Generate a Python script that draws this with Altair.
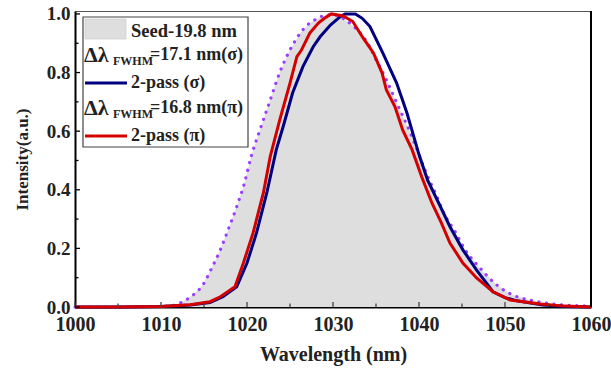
import altair as alt
import pandas as pd

# ---- data ----
seed_x = [1000, 1005, 1010, 1011.6, 1012.5, 1013.7, 1014.9, 1015.9, 1016.9, 1017.8, 1018.8, 1019.7,
          1020.5, 1021.5, 1022.7, 1023.8, 1025, 1026.2, 1027.3, 1028.1, 1029.3, 1030.5, 1031.5,
          1032.5, 1033.9, 1035, 1036.2, 1037.6, 1039, 1039.7, 1040.8, 1041.9, 1043, 1044.2, 1045.3,
          1047.1, 1049, 1050.9, 1053.3, 1055.6, 1058.7, 1060]
seed_y = [0, 0, 0.002, 0.006, 0.018, 0.04, 0.077, 0.133, 0.195, 0.263, 0.342, 0.423,
          0.515, 0.604, 0.706, 0.80, 0.877, 0.935, 0.969, 0.983, 0.997, 0.995, 0.978,
          0.955, 0.906, 0.845, 0.775, 0.684, 0.594, 0.543, 0.46, 0.389, 0.314, 0.257, 0.198,
          0.133, 0.076, 0.041, 0.021, 0.01, 0.004, 0.003]

sigma_x = [1000, 1005, 1010, 1013.4, 1015.7, 1017.2, 1018.8, 1020, 1021.1, 1022.3, 1023.4, 1024.2,
           1025.3, 1026.5, 1027.7, 1028.5, 1029.7, 1030.8, 1031.4, 1032.6, 1033.4, 1034.3, 1035.8,
           1037.4, 1038.6, 1040, 1041, 1042.4, 1043.6, 1045.1, 1046.7, 1048.6, 1050, 1051.4,
           1054.4, 1057, 1060]
sigma_y = [0, 0, 0.002, 0.007, 0.015, 0.035, 0.069, 0.15, 0.252, 0.389, 0.536, 0.615,
           0.73, 0.82, 0.888, 0.922, 0.962, 0.99, 1.0, 1.0, 0.985, 0.957, 0.866,
           0.764, 0.662, 0.52, 0.433, 0.348, 0.274, 0.195, 0.126, 0.052, 0.032, 0.021,
           0.007, 0.002, 0.0]

pi_x = [1000, 1005, 1010, 1013.4, 1015.7, 1016.9, 1018.6, 1019.5, 1020.7, 1021.9, 1022.7, 1023.8,
        1025, 1025.8, 1026.3, 1027.3, 1028.3, 1029, 1029.8, 1031.2, 1032.3, 1033.5, 1034.7,
        1035.7, 1036.2, 1037.2, 1038.1, 1039.2, 1040.3, 1041.5, 1042.6, 1043.6, 1045.1, 1046.7,
        1048.6, 1050.6, 1054.1, 1057, 1060]
pi_y = [0, 0, 0.002, 0.008, 0.018, 0.035, 0.069, 0.143, 0.252, 0.389, 0.513, 0.638,
        0.764, 0.854, 0.875, 0.935, 0.969, 0.985, 1.0, 0.993, 0.974, 0.918, 0.867,
        0.799, 0.741, 0.684, 0.604, 0.536, 0.445, 0.355, 0.287, 0.218, 0.15, 0.099,
        0.052, 0.024, 0.01, 0.003, 0.0]

x_major = [1000, 1010, 1020, 1030, 1040, 1050, 1060]
x_minor = [1005, 1015, 1025, 1035, 1045, 1055]
y_major = [0.0, 0.2, 0.4, 0.6, 0.8, 1.0]
y_minor = [0.1, 0.3, 0.5, 0.7, 0.9]

legend_labels = ["Seed-19.8 nm", "=17.1 nm(σ)", "2-pass (σ)", "=16.8 nm(π)", "2-pass (π)"]

W, H = 516, 296
FONT = "Liberation Serif"
GRAY = "#dedede"
PURPLE = "#9b3dff"
NAVY = "#000080"
RED = "#d40000"

seed = pd.DataFrame({"x": seed_x, "y": seed_y})
sig = pd.DataFrame({"x": sigma_x, "y": sigma_y})
pi_ = pd.DataFrame({"x": pi_x, "y": pi_y})

xs = alt.Scale(domain=[1000, 1060], nice=False, zero=False)
ys = alt.Scale(domain=[0, 1.01], nice=False)

xaxis = alt.Axis(values=x_major, format="d", ticks=False, labelPadding=7, labelFlush=False,
                 labelOverlap=False, labelBound=False, labelFontSize=20, title="Wavelength (nm)",
                 titlePadding=10, titleFontSize=20, domainColor="black", domainWidth=2, grid=False)
yaxis = alt.Axis(values=y_major, format=".1f", ticks=False, labelPadding=5, labelFlush=False,
                 labelOverlap=False, labelFontSize=19, title="Intensity(a.u.)",
                 titlePadding=15, titleFontSize=17, domainColor="black", domainWidth=2, grid=False)

area = alt.Chart(seed).mark_area(color=GRAY, opacity=1).encode(
    x=alt.X("x:Q", scale=xs, axis=xaxis),
    y=alt.Y("y:Q", scale=ys, axis=yaxis),
)
seed_line = alt.Chart(seed).mark_line(color=PURPLE, strokeWidth=3.2, strokeDash=[0.1, 7.5],
                                      strokeCap="round", interpolate="monotone").encode(
    x=alt.X("x:Q", scale=xs), y=alt.Y("y:Q", scale=ys))
sig_line = alt.Chart(sig).mark_line(color=NAVY, strokeWidth=3, interpolate="linear").encode(
    x=alt.X("x:Q", scale=xs), y=alt.Y("y:Q", scale=ys))
pi_line = alt.Chart(pi_).mark_line(color=RED, strokeWidth=3, interpolate="linear").encode(
    x=alt.X("x:Q", scale=xs), y=alt.Y("y:Q", scale=ys))

# inward ticks
def xticks(vals, ln, color):
    return alt.Chart(pd.DataFrame({"v": vals})).mark_rule(color=color, strokeWidth=1.3).encode(
        x=alt.X("v:Q", scale=xs), y=alt.value(H), y2=alt.value(H - ln))

def yticks(vals, ln):
    return alt.Chart(pd.DataFrame({"v": vals})).mark_rule(color="black", strokeWidth=1.3).encode(
        y=alt.Y("v:Q", scale=ys), x=alt.value(0), x2=alt.value(ln))

ticks = [xticks(x_major, 5, "#444"), xticks(x_minor, 3.5, "#444"),
         yticks(y_major, 5), yticks(y_minor, 3.5)]

right_border = alt.Chart(pd.DataFrame({"a": [0]})).mark_rule(color="black", strokeWidth=2).encode(
    x=alt.value(W), y=alt.value(0), y2=alt.value(H))

# legend (drawn in pixel space inside the plot)
lx0, ly0, lx1, ly1 = 8, 6, 173, 136
leg_box = alt.Chart(pd.DataFrame({"a": [0]})).mark_rect(fill="white", stroke="#444", strokeWidth=1.2).encode(
    x=alt.value(lx0), x2=alt.value(lx1), y=alt.value(ly0), y2=alt.value(ly1))
leg_patch = alt.Chart(pd.DataFrame({"a": [0]})).mark_rect(fill=GRAY, stroke="#cfcfcf", strokeWidth=0.8).encode(
    x=alt.value(10), x2=alt.value(51), y=alt.value(8), y2=alt.value(28))
leg_sig = alt.Chart(pd.DataFrame({"a": [0]})).mark_rule(color=NAVY, strokeWidth=3).encode(
    x=alt.value(10), x2=alt.value(52), y=alt.value(72))
leg_pi = alt.Chart(pd.DataFrame({"a": [0]})).mark_rule(color=RED, strokeWidth=3).encode(
    x=alt.value(10), x2=alt.value(52), y=alt.value(125))

def txt(s, x, y, size=18):
    return alt.Chart(pd.DataFrame({"t": [s]})).mark_text(
        font=FONT, fontWeight="bold", fontSize=size, align="left", baseline="middle", color="#222"
    ).encode(x=alt.value(x), y=alt.value(y), text="t:N")

leg_texts = [
    txt(legend_labels[0], 56, 20, 18.5),
    txt("Δλ", 9, 44, 22), txt("FWHM", 38, 50, 12), txt(legend_labels[1], 75, 44),
    txt(legend_labels[2], 56, 72),
    txt("Δλ", 9, 97, 22), txt("FWHM", 38, 103, 12), txt(legend_labels[3], 75, 97),
    txt(legend_labels[4], 56, 125),
]

chart = alt.layer(
    area, seed_line, sig_line, pi_line, *ticks, right_border,
    leg_box, leg_patch, leg_sig, leg_pi, *leg_texts
).properties(
    width=W, height=H,
    autosize=alt.AutoSizeParams(type="none"),
    padding={"left": 75, "top": 11, "right": 20, "bottom": 62},
    background="white",
).configure_view(stroke="#555", strokeWidth=1).configure_axis(
    labelFont=FONT, labelFontWeight="bold", labelColor="#222",
    titleFont=FONT, titleFontWeight="bold", titleColor="#222",
)

chart.save("out.html", embed_options={"renderer": "svg", "actions": False})
